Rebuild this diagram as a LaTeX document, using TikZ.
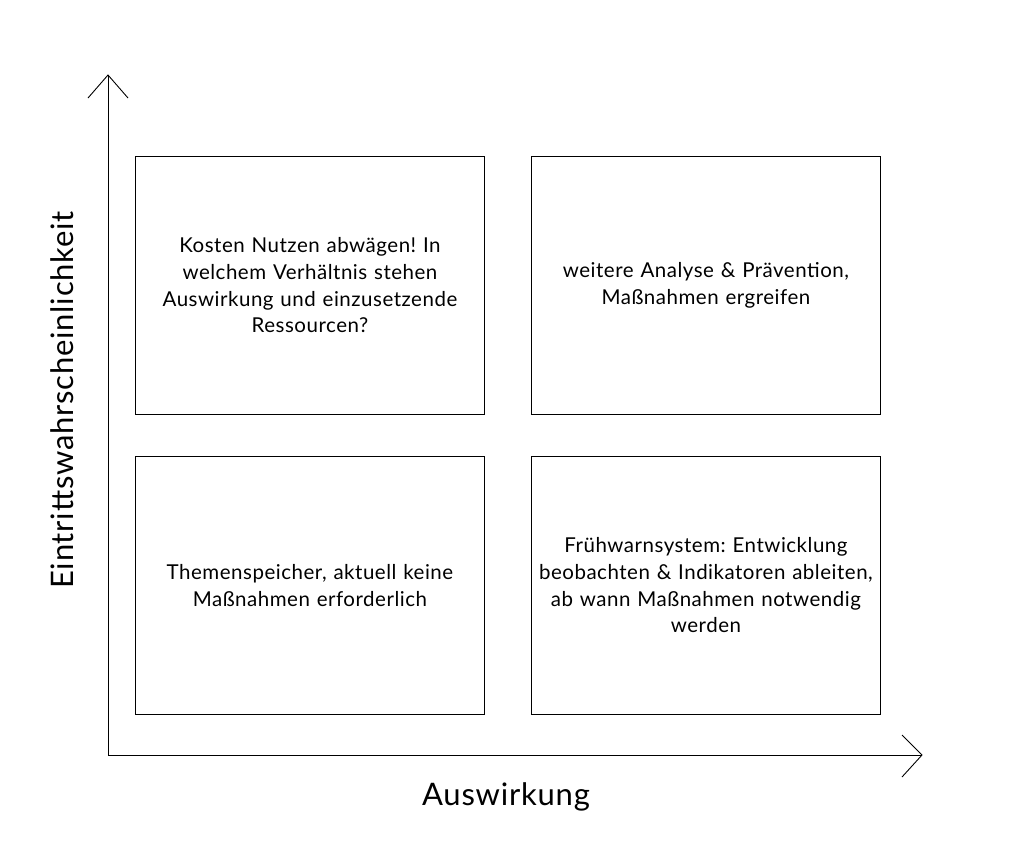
\documentclass[tikz,border=0pt]{standalone}
\usepackage{fontspec}
\setmainfont{Lato}[LetterSpace=2.5]
\frenchspacing
\begin{document}
\begin{tikzpicture}[x=1pt,y=-1pt,
 box/.style={draw,line width=0.9pt,minimum width=349pt,minimum height=258pt,align=center,text width=340pt,font=\fontsize{20.5}{26.7}\selectfont,anchor=north west,inner sep=0pt},
 ax/.style={line width=0.9pt}]
\useasboundingbox (0,0) rectangle (1014,854);
\coordinate (o) at (108,755);
\coordinate (yt) at (108,75);
\coordinate (xt) at (922,755);
\draw[ax] (yt) -- (o) -- (xt);
\draw[ax] (88,98) -- (yt) -- (128,98);
\draw[ax] (902,735) -- (xt) -- (902,777);
\node[box] (tl) at (135,156) {Kosten Nutzen abwägen! In\\welchem Verhältnis stehen\\Auswirkung und einzusetzende\\Ressourcen?};
\node[box] (tr) at (531,156) {weitere Analyse \& Prävention,\\Maßnahmen ergreifen};
\node[box] (bl) at (135,456) {Themenspeicher, aktuell keine\\Maßnahmen erforderlich};
\node[box] (br) at (531,456) {Frühwarnsystem: Entwicklung\\beobachten \& Indikatoren ableiten,\\ab wann Maßnahmen notwendig\\werden};
\node[font=\fontsize{31}{36}\selectfont] (xl) at (506,797) {Auswirkung};
\node[font=\fontsize{31}{36}\selectfont,rotate=90] (yl) at (62,400) {Eintrittswahrscheinlichkeit};
\end{tikzpicture}
\end{document}
